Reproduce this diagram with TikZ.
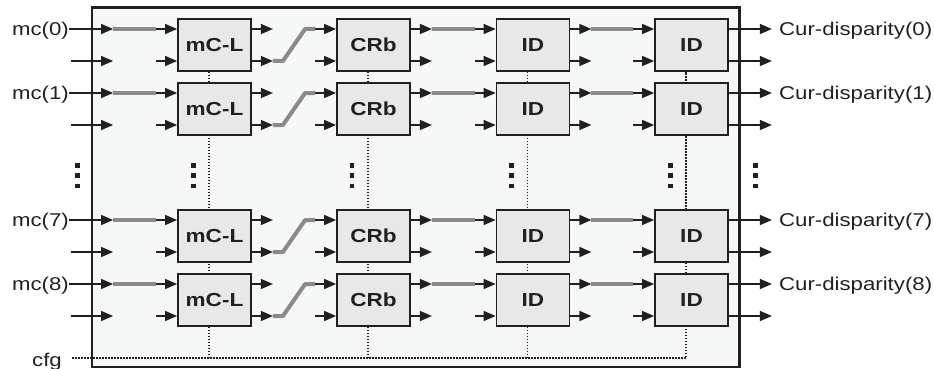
\documentclass[tikz,border=0pt]{standalone}
\usepackage{fontspec}
\setmainfont{Liberation Sans}[FakeStretch=1.2]
\usetikzlibrary{arrows.meta}
\pgfdeclarelayer{bg}
\pgfsetlayers{bg,main}
\definecolor{framefill}{RGB}{246,247,247}
\definecolor{blockfill}{RGB}{232,232,232}
\definecolor{busgray}{RGB}{138,138,138}
\definecolor{ink}{RGB}{35,31,32}

\begin{document}
\begin{tikzpicture}[x=1pt,y=-1pt,
  blk/.style={draw=ink, line width=1.8pt, fill=blockfill, minimum width=73pt,
    minimum height=51.5pt, inner sep=0pt, text=ink,
    font=\bfseries\fontsize{18.8}{21}\selectfont},
  sig/.style={draw=ink, line width=1.4pt, -{Triangle[length=12pt,width=10pt]}},
  bus/.style={draw=busgray, line width=4pt, line join=round},
  ctl/.style={draw=ink, line width=1.3pt, dash pattern=on 1.5pt off 1.5pt},
  lbl/.style={text=ink, inner sep=0pt, font=\fontsize{18.5}{21}\selectfont},
  dotmark/.style={fill=ink}
]
\useasboundingbox (0,0) rectangle (934,369);

% enclosing frame
\begin{pgfonlayer}{bg}
  \draw[draw=ink, line width=2.6pt, fill=framefill] (92,7.5) rectangle (739.5,367);
\end{pgfonlayer}

% processing blocks, one row per channel
\foreach \r/\y in {0/45, 1/109, 7/236, 8/300} {
  \node[blk] (m\r) at (214.5,\y) {mC-L};
  \node[blk] (c\r) at (373.5,\y) {CRb};
  \node[blk] (d\r) at (533,\y) {ID};
  \node[blk] (e\r) at (691.5,\y) {ID};
}

% configuration bus
\node[lbl, anchor=base east] (cfg) at (62,366) {cfg};
\coordinate (cfgy) at (72,358);
\foreach \k in {m,c,d,e} {
  \coordinate (\k top) at ([xshift=-5.5pt]\k0.south);
}
\begin{pgfonlayer}{bg}
  \foreach \k in {m,c,d} {
    \draw[ctl] (\k top) -- (\k top |- cfgy);
  }
  \draw[ctl] (cfgy) -- (etop |- cfgy) -- (etop);
\end{pgfonlayer}

% signal paths
\foreach \r/\y in {0/45, 1/109, 7/236, 8/300} {
  % inputs
  \node[lbl, anchor=base east] (mc\r) at (69,\y-9.3) {mc(\r)};
  \coordinate (it\r) at ([xshift=-64pt,yshift=16pt]m\r.west);
  \coordinate (ib\r) at ([xshift=-64pt,yshift=-16pt]m\r.west);
  \coordinate (sb\r) at ([xshift=-106pt,yshift=-16pt]m\r.west);
  \coordinate (jt\r) at ([xshift=-21pt,yshift=16pt]m\r.west);
  \coordinate (jb\r) at ([xshift=-21pt,yshift=-16pt]m\r.west);
  \draw[sig] (mc\r.east |- it\r) -- (it\r);
  \draw[sig] (sb\r) -- (ib\r);
  \draw[bus] (it\r) -- (jt\r);
  \draw[sig] (jt\r) -- ([yshift=16pt]m\r.west);
  \draw[sig] (jb\r) -- ([yshift=-16pt]m\r.west);
  % stage to stage
  \foreach \a/\b in {m/c, c/d, d/e} {
    \coordinate (p\a\r) at ([xshift=21pt,yshift=16pt]\a\r.east);
    \coordinate (q\a\r) at ([xshift=21pt,yshift=-16pt]\a\r.east);
    \coordinate (u\b\r) at ([xshift=-21pt,yshift=16pt]\b\r.west);
    \coordinate (v\b\r) at ([xshift=-21pt,yshift=-16pt]\b\r.west);
    \draw[sig] ([yshift=16pt]\a\r.east) -- (p\a\r);
    \draw[sig] ([yshift=-16pt]\a\r.east) -- (q\a\r);
    \draw[sig] (u\b\r) -- ([yshift=16pt]\b\r.west);
    \draw[sig] (v\b\r) -- ([yshift=-16pt]\b\r.west);
  }
  \draw[bus] (qm\r) -- ++(10,0) -- ([xshift=-10pt]uc\r) -- (uc\r);
  \draw[bus] (pc\r) -- (ud\r);
  \draw[bus] (pd\r) -- (ue\r);
  % outputs
  \node[lbl, anchor=base west] (cd\r) at (779,\y-9.5) {Cur-disparity(\r)};
  \coordinate (ot\r) at ([xshift=43pt,yshift=16pt]e\r.east);
  \coordinate (ob\r) at ([xshift=43pt,yshift=-16pt]e\r.east);
  \draw[sig] ([yshift=16pt]e\r.east) -- (ot\r);
  \draw[sig] ([yshift=-16pt]e\r.east) -- (ob\r);
}

% vertical ellipses between rows 1 and 7
\foreach \x in {77.5, 193.5, 352, 511.5, 670.5, 755.5} {
  \foreach \yy in {165.5, 175.5, 186} {
    \fill[dotmark] (\x-2.25,\yy-2.25) rectangle (\x+2.25,\yy+2.25);
  }
}
\end{tikzpicture}
\end{document}
